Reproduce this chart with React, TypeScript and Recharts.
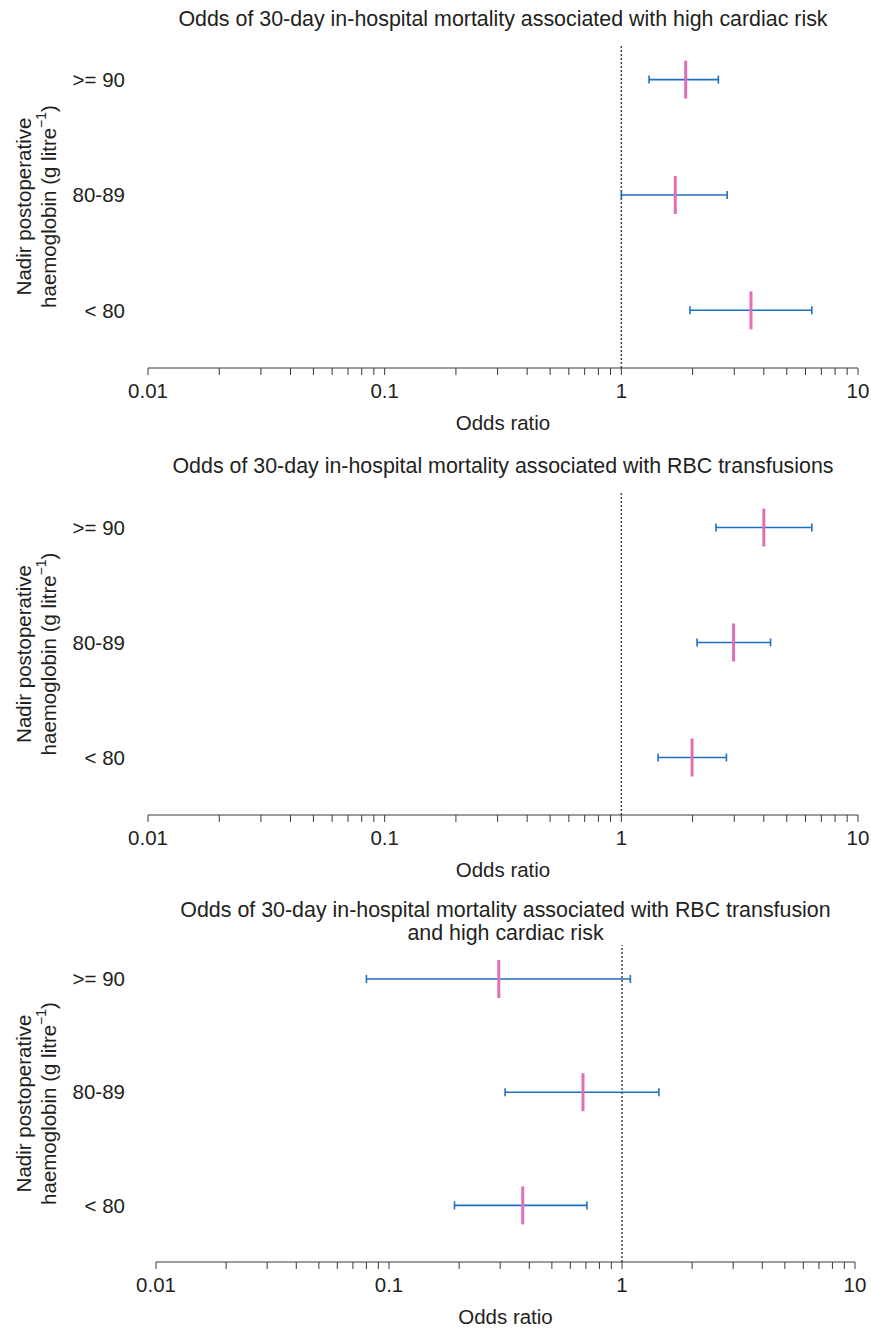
import { ScatterChart, Scatter, ErrorBar, XAxis, YAxis, ReferenceLine } from "recharts";

const ROWS = [">= 90", "80-89", "< 80"];
const ROW_POS = [3, 2, 1];

const X_TICKS = [
  0.01, 0.02, 0.03, 0.04, 0.05, 0.06, 0.07, 0.08, 0.09,
  0.1, 0.2, 0.3, 0.4, 0.5, 0.6, 0.7, 0.8, 0.9,
  1, 2, 3, 4, 5, 6, 7, 8, 9, 10,
];
const X_LABELS = ["0.01", "0.1", "1", "10"];

// odds ratio with 95% CI, rows top to bottom
const CARDIAC_OR = [1.87, 1.69, 3.53];
const CARDIAC_LOW = [1.31, 1.0, 1.95];
const CARDIAC_HIGH = [2.57, 2.8, 6.38];

const RBC_OR = [4.0, 2.98, 1.99];
const RBC_LOW = [2.51, 2.09, 1.43];
const RBC_HIGH = [6.38, 4.27, 2.78];

const BOTH_OR = [0.296, 0.68, 0.375];
const BOTH_LOW = [0.08, 0.315, 0.191];
const BOTH_HIGH = [1.086, 1.44, 0.707];

const TEXT = "#231f20";
const BLUE = "#1f6fbf";
const PINK = "#e46db7";
const FONT = 20.5;
const TITLE_FONT = 21.4;

const PANELS = [
  {
    title: ["Odds of 30-day in-hospital mortality associated with high cardiac risk"],
    or: CARDIAC_OR, low: CARDIAC_LOW, high: CARDIAC_HIGH,
    top: 0, titleTop: 8, plotTop: 45, plotBottom: 368, left: 148, right: 858,
  },
  {
    title: ["Odds of 30-day in-hospital mortality associated with RBC transfusions"],
    or: RBC_OR, low: RBC_LOW, high: RBC_HIGH,
    top: 446, titleTop: 455, plotTop: 493, plotBottom: 815, left: 148, right: 858,
  },
  {
    title: [
      "Odds of 30-day in-hospital mortality associated with RBC transfusion",
      "and high cardiac risk",
    ],
    or: BOTH_OR, low: BOTH_LOW, high: BOTH_HIGH,
    top: 890, titleTop: 899, plotTop: 945, plotBottom: 1262, left: 156, right: 855,
  },
];

const H = 440;
const AX_H = 60;

function YTitle({ viewBox }: any) {
  const cy = viewBox.y + viewBox.height / 2;
  return (
    <g fill={TEXT} fontSize={FONT}>
      <text x={23} y={cy} transform={`rotate(-90, 23, ${cy})`} textAnchor="middle" dominantBaseline="central">
        Nadir postoperative
      </text>
      <text x={48} y={cy} transform={`rotate(-90, 48, ${cy})`} textAnchor="middle" dominantBaseline="central">
        haemoglobin (g litre
        <tspan dy={-7} fontSize={14}>−1</tspan>
        <tspan dy={7}>)</tspan>
      </text>
    </g>
  );
}

function XTitle({ viewBox }: any) {
  return (
    <text
      x={viewBox.x + viewBox.width / 2}
      y={viewBox.y + 54}
      textAnchor="middle"
      dominantBaseline="central"
      fill={TEXT}
      fontSize={FONT}
    >
      Odds ratio
    </text>
  );
}

const Marker = (props: any) => (
  <line x1={props.cx} x2={props.cx} y1={props.cy - 19} y2={props.cy + 19} stroke={PINK} strokeWidth={3} />
);

function Panel({ p }: { p: (typeof PANELS)[number] }) {
  const data = ROWS.map((name, i) => ({
    name,
    row: ROW_POS[i],
    or: p.or[i],
    err: [p.or[i] - p.low[i], p.high[i] - p.or[i]],
  }));
  return (
    <div style={{ position: "absolute", left: 0, top: p.top, width: 871, height: H }}>
      <ScatterChart
        width={871}
        height={H}
        margin={{
          top: p.plotTop - p.top,
          right: 871 - p.right,
          bottom: H - (p.plotBottom - p.top) - AX_H,
          left: 0,
        }}
      >
        <XAxis
          type="number"
          dataKey="or"
          scale="log"
          domain={[0.01, 10]}
          allowDataOverflow
          ticks={X_TICKS}
          interval={0}
          tickFormatter={(v: number) => {
            const s = String(v);
            return X_LABELS.includes(s) ? s : "";
          }}
          height={AX_H}
          tick={{ fontSize: FONT, fill: TEXT }}
          tickSize={7}
          tickMargin={8}
          stroke="#3a3a3a"
          label={{ content: (props: any) => <XTitle viewBox={props.viewBox} /> }}
        />
        <YAxis
          type="number"
          dataKey="row"
          domain={[0.5, 3.3]}
          allowDataOverflow
          ticks={ROW_POS}
          tickFormatter={(v: number) => ROWS[ROW_POS.indexOf(v)]}
          axisLine={false}
          tickLine={false}
          tickSize={0}
          tickMargin={p.left - 125}
          width={p.left}
          tick={{ fontSize: FONT, fill: TEXT }}
          label={{ content: (props: any) => <YTitle viewBox={props.viewBox} /> }}
        />
        <ReferenceLine x={1} stroke="#444" strokeWidth={1.5} strokeDasharray="2 2" />
        <Scatter data={data} shape={Marker} isAnimationActive={false}>
          <ErrorBar dataKey="err" direction="x" width={4} stroke={BLUE} strokeWidth={1.6} isAnimationActive={false} />
        </Scatter>
      </ScatterChart>
      {p.title.map((t, i) => (
        <div
          key={i}
          style={{
            position: "absolute",
            top: p.titleTop - p.top + i * 23,
            left: p.left - 60,
            width: p.right - p.left + 120,
            textAlign: "center",
            fontSize: TITLE_FONT,
            lineHeight: "23px",
            color: TEXT,
            whiteSpace: "nowrap",
          }}
        >
          {t}
        </div>
      ))}
    </div>
  );
}

export default function App() {
  return (
    <div
      style={{
        position: "absolute",
        left: 0,
        top: 0,
        width: 871,
        height: 1330,
        background: "#fff",
        fontFamily: '"Liberation Sans", Arial, sans-serif',
      }}
    >
      {PANELS.map((p, i) => (
        <Panel key={i} p={p} />
      ))}
    </div>
  );
}
